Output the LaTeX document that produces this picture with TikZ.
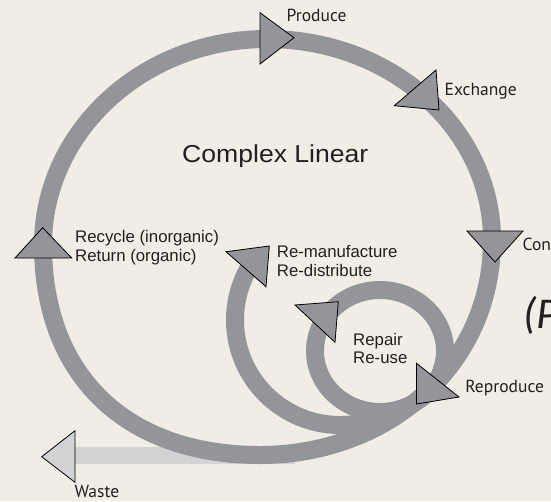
\documentclass[tikz,border=0pt]{standalone}
\usepackage{fontspec}
\setmainfont{Liberation Sans}
\newfontfamily\myriadf{PT Sans}
\newfontfamily\calibf{Carlito}
\definecolor{bgc}{RGB}{239,237,229}
\definecolor{bandc}{RGB}{147,149,152}
\definecolor{wastec}{RGB}{209,211,212}
\definecolor{txtc}{RGB}{35,31,32}
\tikzset{
  band/.style={draw=bandc, line width=18pt},
  wasteband/.style={draw=wastec, line width=17.5pt},
  tri/.style={fill=bandc, draw=black, line width=0.8pt, line join=miter},
  wtri/.style={fill=wastec, draw=black, line width=0.8pt, line join=miter},
  lab/.style={anchor=base west, inner sep=0pt, text=txtc, font=\fontsize{16.8}{20}\selectfont},
  mlab/.style={anchor=base west, inner sep=0pt, text=txtc, font=\myriadf\fontsize{17.5}{20}\selectfont},
}
\begin{document}
\begin{tikzpicture}[x=1pt,y=-1pt]
\useasboundingbox (0,0) rectangle (551,501);
\fill[bgc] (0,0) rectangle (551,501);
\clip (0,0) rectangle (551,501);
% waste flow
\coordinate (wA) at (74,455.5);
\coordinate (wB) at (295,455.5);
\draw[wasteband] (wA) -- (wB);
\draw[wtri] (41.7,456.7) -- (75,430.7) -- (75,482.3) -- cycle;
% outer loop
\draw[band] (267,39) .. controls (391.3,39) and (492,129) .. (492,240)
  .. controls (492,365) and (388.1,455) .. (260,455)
  .. controls (125.5,455) and (43,375.2) .. (43,245)
  .. controls (43,131.2) and (143.3,39) .. (267,39) -- cycle;
% middle loop
\draw[band] (340,320) ++(62:105) arc[start angle=62, end angle=211, radius=105];
% inner loop
\draw[band] (380,351) ellipse [x radius=65, y radius=61];
% arrowheads
\draw[tri] (260,12.7) -- (294,37.7) -- (260,64) -- cycle;        % produce
\draw[tri] (436,70) -- (439,110) -- (394.3,105.7) -- cycle;      % exchange
\draw[tri] (467,231) -- (523,231) -- (495,262) -- cycle;         % consume
\draw[tri] (15,258) -- (42.7,227.7) -- (71.7,258) -- cycle;      % recycle
\draw[tri] (226,251.7) -- (269.3,246) -- (266,286.7) -- cycle;   % remanufacture
\draw[tri] (295,305) -- (338.3,301.7) -- (335,342.3) -- cycle;   % repair
\draw[tri] (416.5,363.3) -- (459,397) -- (416.5,404) -- cycle;   % reproduce
% labels
\node[mlab] (produce) at (286.5,21.7) {Produce};
\node[mlab] (exchange) at (444.5,95) {Exchange};
\node[mlab] (consume) at (522.5,250) {Con};
\node[anchor=base west, inner sep=0pt, text=txtc, font=\calibf\itshape\fontsize{44}{46}\selectfont] (post) at (523,328) {(P};
\node[anchor=base west, inner sep=0pt, text=txtc, font=\fontsize{24.5}{28}\selectfont] (title) at (182,162.3) {\scalebox{1.085}[1]{Complex Linear}};
\node[lab] (recycle) at (75,242.3) {Recycle (inorganic)};
\node[lab] (return) at (75,261) {Return (organic)};
\node[lab] (reman) at (276.7,257.3) {Re-manufacture};
\node[lab] (redist) at (276.7,276) {Re-distribute};
\node[lab] (repair) at (353,345) {Repair};
\node[lab] (reuse) at (353,363.3) {Re-use};
\node[mlab] (reproduce) at (465.2,392.7) {Reproduce};
\node[mlab] (waste) at (74.5,497.3) {Waste};
\end{tikzpicture}
\end{document}
